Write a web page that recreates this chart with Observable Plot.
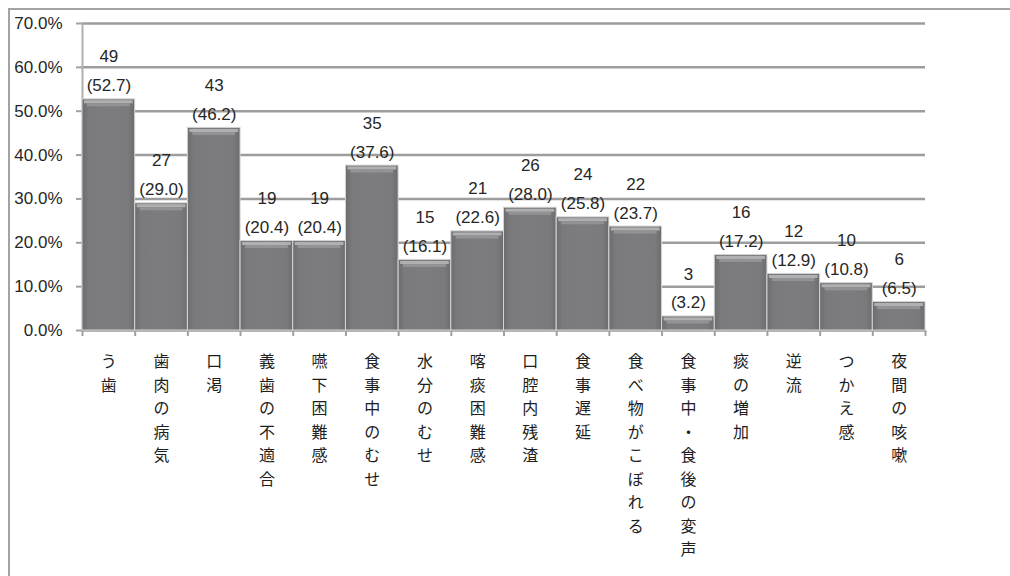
<!DOCTYPE html>
<html>
<head>
<meta charset="utf-8">
<script src="https://cdn.jsdelivr.net/npm/d3@7"></script>
<script src="https://cdn.jsdelivr.net/npm/@observablehq/plot@0.6"></script>
<style>
  html, body { margin: 0; padding: 0; background: #fff; }
  #wrap { position: relative; width: 1010px; height: 576px; overflow: hidden; }
  #border { position: absolute; left: 8px; top: 8px; width: 1100px; height: 700px;
            border-left: 2px solid #a3a3a3; border-top: 2px solid #a3a3a3; }
  #chart { position: absolute; left: 0; top: 0; }
</style>
</head>
<body>
<div id="wrap"><div id="border"></div><div id="chart"></div></div>
<script>
const categories = ["う歯","歯肉の病気","口渇","義歯の不適合","嚥下困難感","食事中のむせ","水分のむせ","喀痰困難感","口腔内残渣","食事遅延","食べ物がこぼれる","食事中・食後の変声","痰の増加","逆流","つかえ感","夜間の咳嗽"];
const counts = [49,27,43,19,19,35,15,21,26,24,22,3,16,12,10,6];
const percents = [52.7,29.0,46.2,20.4,20.4,37.6,16.1,22.6,28.0,25.8,23.7,3.2,17.2,12.9,10.8,6.5];
const yTicks = [0,10,20,30,40,50,60,70];

const data = categories.map((c, i) => ({cat: c, count: counts[i], pct: percents[i], i: i, i1: i + 1, mid: i + 0.5}));
const boundaries = d3.range(categories.length + 1);

const svg = Plot.plot({
  width: 1010,
  height: 576,
  marginLeft: 82,
  marginRight: 85,
  marginTop: 23,
  marginBottom: 246,
  x: {domain: [0, categories.length], axis: null},
  y: {domain: [0, 70], axis: null},
  style: {fontFamily: "'Liberation Sans', 'Noto Sans CJK JP', sans-serif", fontSize: "17px", color: "#262626", background: "transparent"},
  marks: [
    Plot.ruleY(yTicks, {stroke: "#9d9d9d", strokeWidth: 2.5}),
    Plot.ruleX([0], {y1: 0, y2: 70, stroke: "#b0b0b0", strokeWidth: 2}),
    Plot.axisY({ticks: yTicks, tickSize: 6, tickPadding: 14, tickFormat: d => d.toFixed(1) + "%", label: null, stroke: "#a0a0a0", strokeWidth: 2, fontSize: 17, fill: "#262626"}),
    Plot.axisX({ticks: boundaries, tickSize: 6, tickFormat: () => "", label: null, stroke: "#a0a0a0", strokeWidth: 2}),
    Plot.rectY(data, {x1: "i", x2: "i1", y: "pct", fill: "url(#barGrad)", stroke: "#d4d4d4", strokeWidth: 1}),
    Plot.ruleY(data, {y: "pct", x1: "i", x2: "i1", stroke: "#b0b0b2", strokeWidth: 3, dy: 2.5, insetLeft: 2, insetRight: 2}),
    Plot.ruleY(data, {y: "pct", x1: "i", x2: "i1", stroke: "#939395", strokeWidth: 3, dy: 5.5, insetLeft: 5, insetRight: 5}),
    Plot.text(data, {x: "mid", y: "pct", text: d => `${d.count}\n(${d.pct.toFixed(1)})`, lineAnchor: "bottom", dy: -8, lineHeight: 1.7, fontSize: 17, fill: "#262626"}),
    Plot.text(data, {x: "mid", frameAnchor: "bottom", text: d => [...d.cat].join("\n"), lineAnchor: "top", dy: 20, fontSize: 16, lineHeight: 1.47, fill: "#1e1e1e", fontFamily: "'Noto Sans CJK JP', sans-serif"})
  ]
});

const ns = "http://www.w3.org/2000/svg";
const defs = document.createElementNS(ns, "defs");
const grad = document.createElementNS(ns, "linearGradient");
grad.setAttribute("id", "barGrad");
grad.setAttribute("x1", "0"); grad.setAttribute("x2", "1"); grad.setAttribute("y1", "0"); grad.setAttribute("y2", "0");
[["0", "#6c6c6e"], ["0.12", "#7a7a7c"], ["0.5", "#7d7d7f"], ["0.88", "#7a7a7c"], ["1", "#6c6c6e"]].forEach(([o, c]) => {
  const s = document.createElementNS(ns, "stop");
  s.setAttribute("offset", o); s.setAttribute("stop-color", c);
  grad.appendChild(s);
});
defs.appendChild(grad);
svg.insertBefore(defs, svg.firstChild);

document.getElementById("chart").appendChild(svg);
</script>
</body>
</html>
